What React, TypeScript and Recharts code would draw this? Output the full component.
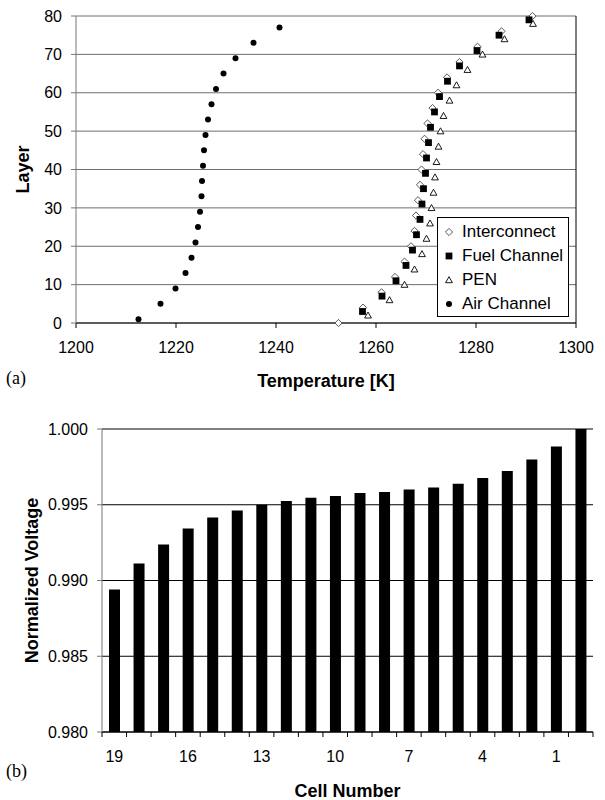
import React from 'react';
import {
  ScatterChart,
  Scatter,
  BarChart,
  Bar,
  XAxis,
  YAxis,
  CartesianGrid,
  Legend,
  ReferenceLine,
} from 'recharts';

// ---- (a) layer temperatures ----
const interconnectLayers = [0, 4, 8, 12, 16, 20, 24, 28, 32, 36, 40, 44, 48, 52, 56, 60, 64, 68, 72, 76, 80];
const interconnectTemps = [1252.5, 1257.4, 1261.1, 1263.8, 1265.7, 1267.0, 1267.7, 1268.0, 1268.4, 1268.8, 1269.1, 1269.4, 1269.7, 1270.3, 1271.3, 1272.4, 1274.2, 1276.7, 1280.3, 1285.1, 1291.3];

const fuelLayers = [3, 7, 11, 15, 19, 23, 27, 31, 35, 39, 43, 47, 51, 55, 59, 63, 67, 71, 75, 79];
const fuelTemps = [1257.3, 1261.2, 1264.0, 1266.0, 1267.3, 1268.1, 1268.8, 1269.2, 1269.5, 1269.9, 1270.1, 1270.5, 1270.9, 1271.7, 1272.7, 1274.3, 1276.7, 1280.2, 1284.6, 1290.6];

const penLayers = [2, 6, 10, 14, 18, 22, 26, 30, 34, 38, 42, 46, 50, 54, 58, 62, 66, 70, 74, 78];
const penTemps = [1258.4, 1262.7, 1265.7, 1267.7, 1269.2, 1270.1, 1270.8, 1271.1, 1271.5, 1271.8, 1272.1, 1272.5, 1272.9, 1273.5, 1274.7, 1276.1, 1278.3, 1281.3, 1285.7, 1291.4];

const airLayers = [1, 5, 9, 13, 17, 21, 25, 29, 33, 37, 41, 45, 49, 53, 57, 61, 65, 69, 73, 77];
const airTemps = [1212.5, 1216.9, 1219.9, 1221.9, 1223.1, 1223.9, 1224.4, 1224.8, 1225.1, 1225.2, 1225.4, 1225.6, 1225.9, 1226.4, 1227.1, 1228.0, 1229.5, 1231.9, 1235.5, 1240.7];

const tempTicks = [1200, 1220, 1240, 1260, 1280, 1300];
const layerTicks = [0, 10, 20, 30, 40, 50, 60, 70, 80];

// ---- (b) cell voltages ----
const cellNumbers = ['19', '18', '17', '16', '15', '14', '13', '12', '11', '10', '9', '8', '7', '6', '5', '4', '3', '2', '1', '0'];
const normVoltage = [0.98941, 0.99112, 0.99237, 0.99343, 0.99416, 0.99462, 0.995, 0.99524, 0.99546, 0.99557, 0.99577, 0.99584, 0.99601, 0.99614, 0.99639, 0.99677, 0.99723, 0.99798, 0.99884, 1.0];
const voltageTicks = [0.98, 0.985, 0.99, 0.995, 1.0];

const toPoints = (layers: number[], temps: number[]) => layers.map((layer, i) => ({ t: temps[i], layer }));
const voltageData = cellNumbers.map((cell, i) => ({ cell, v: normVoltage[i] }));

const FONT = '"Liberation Sans", Arial, sans-serif';
const tickStyle = { fontSize: 16, fill: '#000', fontFamily: FONT };
const titleStyle = { fontSize: 18, fontWeight: 'bold', fill: '#000', fontFamily: FONT };

// marker shapes
const Diamond = ({ cx, cy }: any) => (
  <path d={`M${cx},${cy - 3.6}L${cx + 3.6},${cy}L${cx},${cy + 3.6}L${cx - 3.6},${cy}Z`} fill="#fff" stroke="#444" strokeWidth={0.9} />
);
const Square = ({ cx, cy }: any) => <rect x={cx - 3.4} y={cy - 3.4} width={6.8} height={6.8} fill="#000" />;
const Triangle = ({ cx, cy }: any) => (
  <path d={`M${cx},${cy - 3.3}L${cx + 3.4},${cy + 2.7}L${cx - 3.4},${cy + 2.7}Z`} fill="#fff" stroke="#000" strokeWidth={0.9} />
);
const Dot = ({ cx, cy }: any) => <circle cx={cx} cy={cy} r={3} fill="#000" />;

const legendItems = [
  { name: 'Interconnect', Shape: Diamond },
  { name: 'Fuel Channel', Shape: Square },
  { name: 'PEN', Shape: Triangle },
  { name: 'Air Channel', Shape: Dot },
];

const renderLegend = () => (
  <div style={{ border: '1px solid #000', background: '#fff', padding: '2px 0', boxSizing: 'border-box', width: 132, height: 100 }}>
    {legendItems.map(({ name, Shape }) => (
      <div key={name} style={{ display: 'flex', alignItems: 'center', height: 24, fontFamily: FONT, fontSize: 17, color: '#000' }}>
        <svg width={22} height={24} style={{ flex: 'none' }}>
          <Shape cx={11} cy={12} />
        </svg>
        <span style={{ marginLeft: 2 }}>{name}</span>
      </div>
    ))}
  </div>
);

// ticks between categories, label on every third cell
const CellTick = (props: any) => {
  const { x, y, payload, index } = props;
  const i = index ?? payload.index ?? 0;
  const half = payload.offset ?? 12.3;
  const axisY = y - 19;
  return (
    <g>
      <line x1={x - half} x2={x - half} y1={axisY} y2={axisY + 5} stroke="#000" />
      {i === cellNumbers.length - 1 && <line x1={x + half} x2={x + half} y1={axisY} y2={axisY + 5} stroke="#000" />}
      {i % 3 === 0 && (
        <text x={x} y={y} dy="0.71em" textAnchor="middle" style={tickStyle}>
          {payload.value}
        </text>
      )}
    </g>
  );
};

const TemperatureChart = () => (
  <ScatterChart width={605} height={400} margin={{ top: 16, right: 29, bottom: 47, left: 0 }}>
    <CartesianGrid vertical={false} stroke="#6e6e6e" />
    <XAxis
      type="number"
      dataKey="t"
      domain={[1200, 1300]}
      ticks={tempTicks}
      height={30}
      stroke="#000"
      tickSize={5}
      tickMargin={14}
      tick={tickStyle}
      label={{ value: 'Temperature [K]', position: 'bottom', offset: 21, style: titleStyle }}
    />
    <YAxis
      type="number"
      dataKey="layer"
      domain={[0, 80]}
      ticks={layerTicks}
      width={76}
      stroke="#777"
      tickSize={5}
      tickMargin={9}
      tick={tickStyle}
      label={{ value: 'Layer', angle: -90, position: 'insideLeft', offset: 23, style: { ...titleStyle, textAnchor: 'middle' } }}
    />
    <ReferenceLine x={1300} stroke="#000" />
    <Legend
      layout="horizontal"
      verticalAlign="middle"
      content={renderLegend}
      wrapperStyle={{ left: 437, top: 217, width: 132, height: 100 }}
    />
    <Scatter name="Interconnect" data={toPoints(interconnectLayers, interconnectTemps)} shape={Diamond} isAnimationActive={false} />
    <Scatter name="Fuel Channel" data={toPoints(fuelLayers, fuelTemps)} shape={Square} isAnimationActive={false} />
    <Scatter name="PEN" data={toPoints(penLayers, penTemps)} shape={Triangle} isAnimationActive={false} />
    <Scatter name="Air Channel" data={toPoints(airLayers, airTemps)} shape={Dot} isAnimationActive={false} />
  </ScatterChart>
);

const VoltageChart = () => (
  <BarChart width={605} height={400} data={voltageData} margin={{ top: 29, right: 12, bottom: 38, left: 0 }}>
    <CartesianGrid vertical={false} stroke="#000" />
    <XAxis
      dataKey="cell"
      interval={0}
      height={30}
      stroke="#000"
      tickLine={false}
      tickSize={5}
      tickMargin={14}
      tick={<CellTick />}
      label={{ value: 'Cell Number', position: 'bottom', offset: 22, style: titleStyle }}
    />
    <YAxis
      domain={[0.98, 1.0]}
      ticks={voltageTicks}
      allowDataOverflow
      width={102}
      stroke="#777"
      tickSize={5}
      tickMargin={9}
      tick={tickStyle}
      tickFormatter={(v: number) => v.toFixed(3)}
      label={{ value: 'Normalized Voltage', angle: -90, position: 'insideLeft', offset: 32, style: { ...titleStyle, textAnchor: 'middle' } }}
    />
    <YAxis yAxisId="right" orientation="right" width={0} domain={[0, 1]} tick={false} tickLine={false} stroke="#000" />
    <Bar dataKey="v" fill="#000" barSize={11} isAnimationActive={false} />
  </BarChart>
);

const panelLetter: React.CSSProperties = {
  position: 'absolute',
  left: 6,
  fontFamily: '"Liberation Serif", "Times New Roman", serif',
  fontSize: 18,
  lineHeight: '20px',
};

export default function App() {
  return (
    <div style={{ position: 'absolute', left: 0, top: 0, width: 605, height: 800, background: '#fff', fontFamily: FONT }}>
      <div style={{ position: 'absolute', left: 0, top: 0 }}>
        <TemperatureChart />
      </div>
      <div style={{ position: 'absolute', left: 0, top: 400 }}>
        <VoltageChart />
      </div>
      <div style={{ ...panelLetter, top: 368 }}>(a)</div>
      <div style={{ ...panelLetter, top: 761 }}>(b)</div>
    </div>
  );
}
